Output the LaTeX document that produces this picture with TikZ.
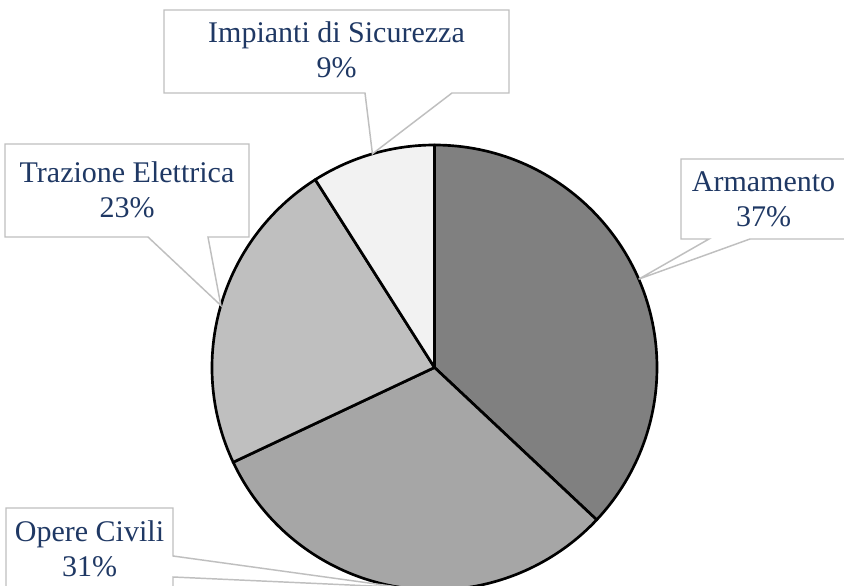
\documentclass[tikz,border=0pt]{standalone}
\usepackage{fontspec}
\setmainfont{Liberation Serif}
\usetikzlibrary{calc}
\definecolor{navy}{RGB}{31,56,100}
\definecolor{sliceA}{RGB}{128,128,128}
\definecolor{sliceB}{RGB}{166,166,166}
\definecolor{sliceC}{RGB}{191,191,191}
\definecolor{sliceD}{RGB}{242,242,242}
\definecolor{callgray}{RGB}{191,191,191}
\tikzset{
  slice/.style={draw=black, line width=2pt, line join=round},
  callout/.style={draw=callgray, fill=white, line width=1.1pt, line join=miter},
  lbl/.style={font=\fontsize{22.5}{27}\selectfont, text=navy, anchor=base, inner sep=0pt}
}
\begin{document}
\begin{tikzpicture}[x=0.75pt,y=0.75pt]
\useasboundingbox (0,0) rectangle (844,586);
\clip (0,0) rectangle (844,586);
\def\pieR{222.5}
\coordinate (c) at (434.5,218.5);
% slices
\draw[slice, fill=sliceA] (c) -- +(90:\pieR) arc[start angle=90, end angle=-43.2, radius=\pieR] -- cycle;
\draw[slice, fill=sliceB] (c) -- +(-43.2:\pieR) arc[start angle=-43.2, end angle=-154.8, radius=\pieR] -- cycle;
\draw[slice, fill=sliceC] (c) -- +(-154.8:\pieR) arc[start angle=-154.8, end angle=-237.6, radius=\pieR] -- cycle;
\draw[slice, fill=sliceD] (c) -- +(-237.6:\pieR) arc[start angle=-237.6, end angle=-270, radius=\pieR] -- cycle;
% tips
\coordinate (tA) at ($(c)+(23.4:\pieR)$);
\coordinate (tB) at ($(c)+(-99:\pieR)$);
\coordinate (tC) at ($(c)+(163.8:\pieR)$);
\coordinate (tD) at ($(c)+(106.2:\pieR)$);
% callouts
\draw[callout] (164,576) -- (509,576) -- (509,493) -- (452,493) -- (tD) -- (365,493) -- (164,493) -- cycle;
\draw[callout] (681,427) -- (846,427) -- (846,347) -- (750,347) -- (tA) -- (709,347) -- (681,347) -- cycle;
\draw[callout] (5,442) -- (249,442) -- (249,349) -- (208,349) -- (tC) -- (148,349) -- (5,349) -- cycle;
\draw[callout] (6,78) -- (173,78) -- (173,30) -- (tB) -- (173,9) -- (173,-20) -- (6,-20) -- cycle;
% labels
\node[lbl] (d1) at (336.5,543) {Impianti di Sicurezza};
\node[lbl] (d2) at (336.5,508) {9\%};
\node[lbl] (a1) at (763.5,394) {Armamento};
\node[lbl] (a2) at (763.5,359) {37\%};
\node[lbl] (c1) at (127,403) {Trazione Elettrica};
\node[lbl] (c2) at (127,368) {23\%};
\node[lbl] (b1) at (89.5,44) {Opere Civili};
\node[lbl] (b2) at (89.5,9) {31\%};
\end{tikzpicture}
\end{document}
